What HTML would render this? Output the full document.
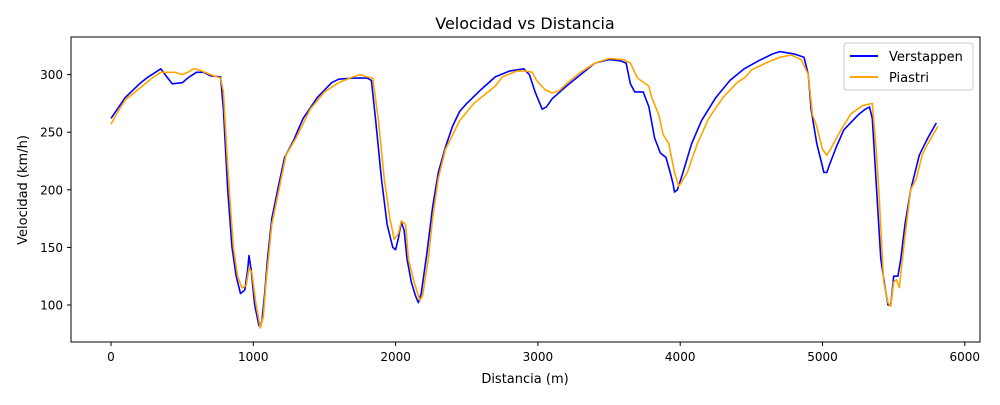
<!DOCTYPE html>
<html><head><meta charset="utf-8"><style>
body{margin:0;background:#fff;font-family:"Liberation Sans","DejaVu Sans",sans-serif}
svg text{font-family:"DejaVu Sans","Liberation Sans",sans-serif;fill:#000}
</style></head><body>
<svg id="chart" width="1000" height="400" viewBox="0 0 1000 400" xmlns="http://www.w3.org/2000/svg">
<rect width="1000" height="400" fill="#fff"/>
<text x="525" y="29" font-size="16" text-anchor="middle">Velocidad vs Distancia</text>
<g id="ticks"></g>
<g id="lines"></g>
<rect x="71" y="37" width="909" height="305" fill="none" stroke="#000" stroke-width="1"/>
<text x="525" y="383" font-size="13" text-anchor="middle">Distancia (m)</text>
<text transform="translate(27,190) rotate(-90)" font-size="13" text-anchor="middle">Velocidad (km/h)</text>
<g>
<rect x="844" y="43" width="129" height="47" rx="3" fill="#fff" stroke="#ccc"/>
<line x1="850" y1="56" x2="878" y2="56" stroke="#0000ff" stroke-width="2"/>
<text x="889" y="61" font-size="13">Verstappen</text>
<line x1="850" y1="77" x2="878" y2="77" stroke="#ffa500" stroke-width="2"/>
<text x="889" y="82" font-size="13">Piastri</text>
</g>
</svg>
<script>
const xTicks=[0,1000,2000,3000,4000,5000,6000];
const yTicks=[100,150,200,250,300];
const verDist=[0,100,200,250,350,380,430,500,550,600,650,700,770,790,820,850,880,910,940,960,970,985,1010,1040,1060,1080,1100,1130,1180,1220,1280,1350,1450,1550,1600,1700,1800,1830,1860,1900,1940,1980,2000,2020,2040,2060,2080,2110,2140,2160,2180,2220,2260,2300,2350,2400,2450,2500,2600,2700,2800,2900,2940,2980,3030,3060,3100,3200,3300,3400,3500,3580,3620,3650,3680,3740,3780,3820,3860,3900,3930,3950,3960,3980,4020,4080,4150,4250,4350,4450,4550,4650,4700,4800,4870,4900,4920,4960,4990,5010,5030,5050,5100,5150,5250,5300,5330,5350,5380,5410,5440,5460,5480,5500,5530,5550,5580,5620,5680,5740,5800];
const verSpeed=[262,280,292,297,305,300,292,293,298,302,302,299,298,270,200,150,125,110,113,130,143,130,100,82,85,110,140,175,205,228,242,262,280,293,296,297,297,295,260,210,170,150,148,158,172,165,140,120,108,102,110,145,185,215,237,255,268,275,287,298,303,305,300,285,270,272,279,290,300,310,313,312,310,292,285,285,272,245,232,228,215,205,198,200,215,240,260,280,295,305,312,318,320,318,315,300,270,240,225,215,215,222,238,252,265,270,272,262,200,140,115,100,100,125,125,140,170,200,230,245,258];
const piaDist=[0,50,100,200,300,350,400,450,500,540,580,620,700,770,790,820,860,890,920,950,970,990,1020,1050,1070,1090,1130,1180,1230,1300,1400,1500,1600,1700,1750,1800,1840,1880,1920,1960,1990,2020,2040,2070,2090,2130,2170,2190,2230,2260,2300,2350,2450,2550,2650,2700,2750,2850,2920,2960,2990,3050,3100,3150,3200,3300,3400,3500,3600,3650,3700,3780,3800,3850,3880,3920,3960,3990,4050,4120,4200,4300,4400,4460,4500,4600,4700,4780,4850,4900,4930,4960,5000,5030,5060,5120,5200,5280,5350,5380,5400,5430,5460,5480,5500,5520,5540,5580,5620,5660,5700,5740,5810];
const piaSpeed=[257,268,278,288,298,302,302,302,300,302,305,304,300,297,285,220,150,125,115,117,132,128,100,80,90,120,170,200,230,245,270,285,293,298,300,298,297,260,210,175,157,162,173,170,140,120,104,108,140,175,210,235,260,275,285,290,298,303,303,302,295,287,284,286,292,302,310,314,313,310,297,290,280,265,248,240,215,203,215,240,262,280,293,298,304,310,315,317,313,300,265,255,235,230,236,250,266,273,275,230,190,120,102,99,120,122,115,160,200,210,230,240,255];
const X=d=>111+(d/1000)*142.3;
const Y=v=>305-(v-100)*1.152;
const NS='http://www.w3.org/2000/svg';
const tg=document.getElementById('ticks');
function mk(tag,attrs,parent){const e=document.createElementNS(NS,tag);for(const k in attrs)e.setAttribute(k,attrs[k]);parent.appendChild(e);return e;}
xTicks.forEach(t=>{
  const l=mk('line',{x1:X(t),x2:X(t),y1:342,y2:346,stroke:'#000'},tg);
  
  
  const tx=mk('text',{x:X(t),y:361,'font-size':'12','text-anchor':'middle'},tg);
  tx.textContent=t;
  
  
});
yTicks.forEach(t=>{
  const l=mk('line',{x1:67,x2:71,y1:Y(t),y2:Y(t),stroke:'#000'},tg);
  
  
  const tx=mk('text',{x:63,y:Y(t)+4.5,'font-size':'12','text-anchor':'end'},tg);
  tx.textContent=t;
  
  
});
const lg=document.getElementById('lines');
function series(d,s,color,name){
  const pts=d.map((x,i)=>X(x).toFixed(1)+','+Y(s[i]).toFixed(1)).join(' ');
  const p=mk('polyline',{points:pts,fill:'none',stroke:color,'stroke-width':'1.6','stroke-linejoin':'round'},lg);
  
  
}
series(verDist,verSpeed,'#0000ff','verstappen-line');
series(piaDist,piaSpeed,'#ffa500','piastri-line');
</script>
</body></html>
